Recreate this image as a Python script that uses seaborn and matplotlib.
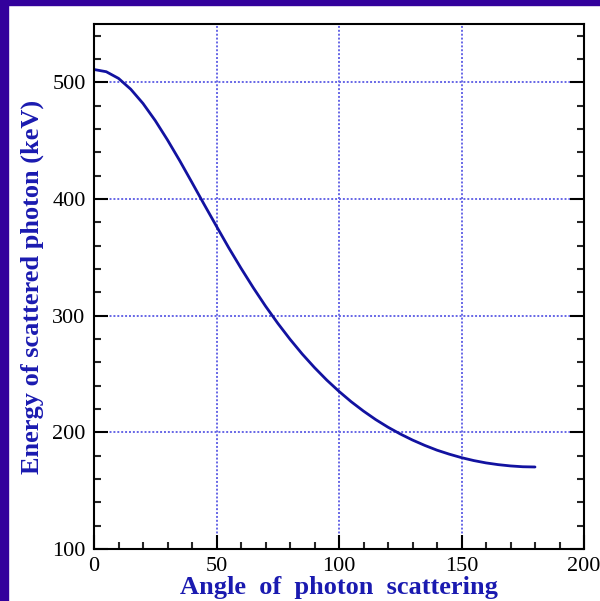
import matplotlib
matplotlib.use("Agg")
import matplotlib.pyplot as plt
import seaborn as sns
import pandas as pd
from matplotlib.ticker import MultipleLocator
from matplotlib.patches import Rectangle

angles = [0, 5, 10, 15, 20, 25, 30, 35, 40, 45, 50, 55, 60, 65, 70, 75, 80, 85, 90,
          95, 100, 105, 110, 115, 120, 125, 130, 135, 140, 145, 150, 155, 160, 165, 170, 175, 180]
energy = [511.0, 509.1, 503.4, 494.1, 481.9, 467.2, 450.6, 432.8, 414.1, 395.2, 376.6,
          358.2, 340.7, 324.0, 308.2, 293.5, 279.8, 267.1, 255.5, 244.8, 235.1, 226.2,
          218.2, 210.9, 204.4, 198.6, 193.4, 188.8, 184.7, 181.3, 178.3, 175.8, 173.8,
          172.3, 171.2, 170.5, 170.3]
xticks = [0, 50, 100, 150, 200]
yticks = [100, 200, 300, 400, 500]

sns.set_style("ticks")
plt.rcParams['font.family'] = ['Liberation Serif', 'DejaVu Serif']

df = pd.DataFrame({"angle": angles, "energy": energy})

fig = plt.figure(figsize=(6.0, 6.01), dpi=100)
fig.patch.set_facecolor("white")
purple = "#33009c"
fig.add_artist(Rectangle((0, 0), 8/600, 1, transform=fig.transFigure, color=purple, zorder=0))
fig.add_artist(Rectangle((0, 1 - 5/601), 1, 5/601, transform=fig.transFigure, color=purple, zorder=0))

ax = fig.add_axes([94/600, 1 - 549/601, 490/600, 525/601])
ax.set_facecolor("white")
sns.lineplot(data=df, x="angle", y="energy", ax=ax, color="#1212a0", linewidth=2.0, zorder=3)

ax.set_xlim(0, 200)
ax.set_ylim(100, 550)
ax.set_xticks(xticks)
ax.set_yticks(yticks)
ax.xaxis.set_minor_locator(MultipleLocator(10))
ax.yaxis.set_minor_locator(MultipleLocator(20))
ax.grid(True, which="major", linestyle=(0, (1, 1)), color="#6666e6", linewidth=1.4, zorder=1)

for s in ax.spines.values():
    s.set_linewidth(1.5)
    s.set_color("black")
    s.set_zorder(4)

ax.tick_params(axis="both", which="major", direction="in", length=10, width=1.5,
               labelsize=16, colors="black", pad=6)
ax.tick_params(axis="both", which="minor", direction="in", length=5, width=1.5)
ax.tick_params(axis="y", which="both", right=True, left=True)
ax.tick_params(axis="x", which="both", top=False, bottom=True)

lab_color = "#1a1ab0"
ax.set_xlabel("Angle  of  photon  scattering", fontsize=19, fontweight="bold",
              color=lab_color, labelpad=0)
ax.set_ylabel("Energy of scattered photon (keV)", fontsize=19, fontweight="bold",
              color=lab_color, labelpad=6)

fig.savefig("out.png", dpi=100, facecolor=fig.get_facecolor())
